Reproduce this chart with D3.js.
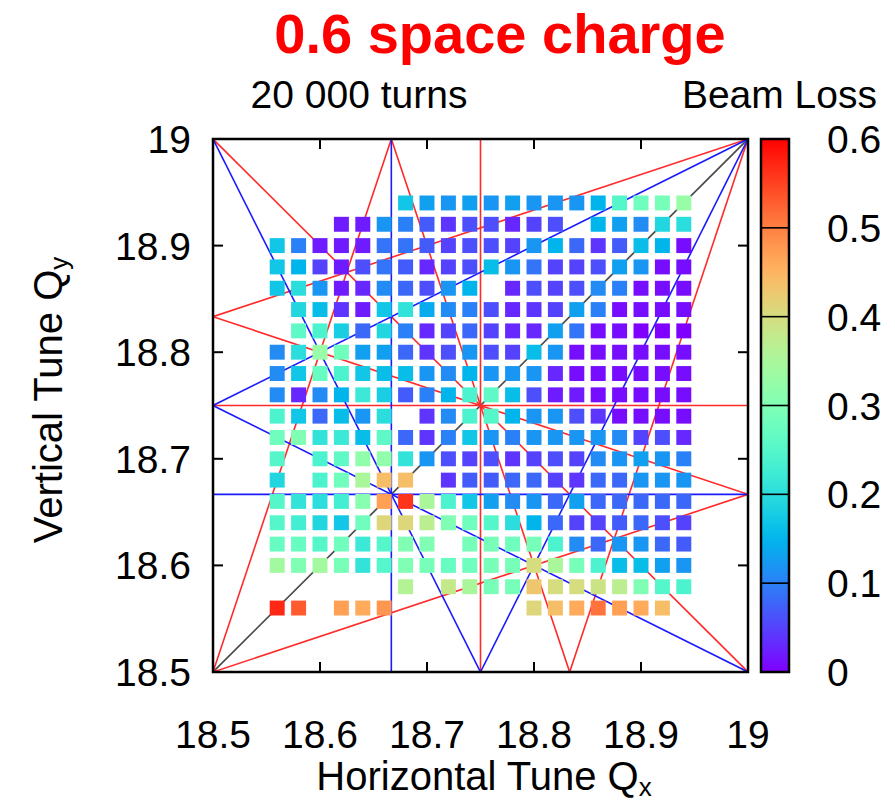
<!DOCTYPE html>
<html>
<head>
<meta charset="utf-8">
<script src="https://cdn.jsdelivr.net/npm/d3@7"></script>
<style>
  html, body { margin: 0; padding: 0; background: #fff; }
  svg text { font-family: "Liberation Sans", Arial, Helvetica, sans-serif; }
</style>
</head>
<body>
<svg id="chart" width="895" height="807"></svg>
<script>
// Tune grid: horizontal (columns) and vertical (rows, top to bottom)
const qxTunes = [18.56, 18.58, 18.60, 18.62, 18.64, 18.66, 18.68, 18.70, 18.72, 18.74,
                 18.76, 18.78, 18.80, 18.82, 18.84, 18.86, 18.88, 18.90, 18.92, 18.94];
const qyTunes = [18.94, 18.92, 18.90, 18.88, 18.86, 18.84, 18.82, 18.80, 18.78, 18.76,
                 18.74, 18.72, 18.70, 18.68, 18.66, 18.64, 18.62, 18.60, 18.58, 18.56];

// Fraction of beam lost after 20 000 turns, one row per vertical tune (null = not simulated)
const _ = null;
const beamLoss = [
  [_, _, _, _, _, _, .17, .13, .12, .13, .12, .13, .12, .12, .12, .15, .25, .28, .29, .33],
  [_, _, _, .02, .02, .12, .10, .07, .04, .06, .06, .03, .05, .06, _, .15, .13, .11, .19, .20],
  [.17, .10, .02, .02, .02, .09, .09, .07, .05, .06, .06, .05, .12, .15, .08, .04, .07, .16, .15, .01],
  [.17, .15, .05, .02, .06, .09, .07, .03, .05, .06, .16, .12, .09, .05, .05, .06, .13, .12, .01, .01],
  [.17, .20, .12, .02, .03, .11, .08, .06, .12, .15, _, .03, .06, .05, .06, .11, .10, .01, .01, .01],
  [_, .19, .16, .04, .02, .17, .21, .14, .11, .10, .06, .03, .04, .05, .13, .10, .01, .01, .01, .01],
  [_, .26, .24, .18, .08, .19, .10, .03, .05, .08, .05, .03, .03, .13, .09, .01, .01, .00, .00, .00],
  [.11, .20, .33, .28, .13, .13, .08, .04, .06, .12, .06, .05, .16, .12, .01, .01, .01, .01, .01, .01],
  [.11, .17, .27, .24, .17, .16, .16, .12, .11, .15, .12, .12, .12, .03, .01, .01, .01, .01, .01, .01],
  [.11, .03, .11, .15, .22, .18, .07, .10, .15, .24, .26, .16, .06, .02, .02, .01, .01, .01, .01, .01],
  [.24, .17, .08, .16, .12, .20, _, .04, .11, .24, .25, .15, .12, .12, .06, .04, .01, .01, .01, .01],
  [.28, .30, .21, .22, .16, .26, .08, .04, .10, .17, .12, .10, .12, .12, .12, .12, .11, .05, .06, .03],
  [.25, _, .24, .26, .32, .32, .21, .12, .06, .05, .06, .04, .05, .06, .05, .11, .12, .13, .12, .10],
  [.19, _, .24, .28, .35, .44, .44, _, .04, .07, .07, .08, .08, .05, .04, .08, .08, .12, .12, .12],
  [.25, .21, .20, .23, .31, .47, .56, .35, .24, .17, .13, .11, .12, .08, .13, .08, .08, .08, .08, .08],
  [.25, .23, .19, .17, .28, .41, .41, .37, .30, .28, .25, .20, .15, .08, .05, .05, .07, .08, .06, .05],
  [.27, .27, .25, .28, .22, .25, .30, .30, _, .29, .29, .28, .29, .24, .11, .08, .12, .12, .08, .07],
  [.34, .30, .34, .29, .21, .25, .30, .29, .27, .28, .29, .29, .40, .35, .29, .24, .16, .16, .13, .12],
  [_, _, _, _, _, _, .36, _, .38, .35, .29, .29, .43, .40, .40, .39, .37, .30, .25, .24],
  [.57, .53, _, .47, .46, .48, _, _, _, _, _, _, .41, .44, .46, .51, .47, .46, .44, _]
];

// Resonance lines m*Qx + n*Qy = p, grouped by order
const order2Lines = [[1, -1, 0]];
const order3Lines = [[3, 0, 56], [0, 3, 56], [2, 1, 56], [1, 2, 56], [2, -1, 19], [1, -2, -19]];
const order4Lines = [[4, 0, 75], [0, 4, 75], [2, 2, 75], [3, 1, 75], [1, 3, 75],
                     [3, -1, 37], [3, -1, 38], [1, -3, -37], [1, -3, -38]];

const axisTicks = [18.5, 18.6, 18.7, 18.8, 18.9, 19];
const axisTickLabels = ["18.5", "18.6", "18.7", "18.8", "18.9", "19"];
const cbTicks = [0, 0.1, 0.2, 0.3, 0.4, 0.5, 0.6];
const cbTickLabels = ["0", "0.1", "0.2", "0.3", "0.4", "0.5", "0.6"];

const tuneDomain = [18.5, 19];
const lossDomain = [0, 0.6];

// Layout
const plot = { left: 213, right: 748, top: 139, bottom: 672 };
const cbar = { left: 761, right: 789 };
const cellSize = 0.014;
const labelSize = 39;

const svg = d3.select("#chart");
const x = d3.scaleLinear().domain(tuneDomain).range([plot.left, plot.right]);
const y = d3.scaleLinear().domain(tuneDomain).range([plot.bottom, plot.top]);
const cy = d3.scaleLinear().domain(lossDomain).range([plot.bottom, plot.top]);

// Rainbow palette: r=|2t-0.5|, g=sin(pi t), b=cos(pi t/2)
function rainbow(t) {
  const c = v => Math.round(255 * Math.max(0, Math.min(1, v)));
  return `rgb(${c(Math.abs(2 * t - 0.5))},${c(Math.sin(Math.PI * t))},${c(Math.cos(Math.PI * t / 2))})`;
}
const color = v => rainbow((v - lossDomain[0]) / (lossDomain[1] - lossDomain[0]));

svg.append("defs").append("clipPath").attr("id", "plotClip")
  .append("rect")
  .attr("x", plot.left).attr("y", plot.top)
  .attr("width", plot.right - plot.left).attr("height", plot.bottom - plot.top);

// Clip a resonance line to the tune square
function segment([m, n, p]) {
  const [lo, hi] = tuneDomain, pts = [];
  if (n !== 0) {
    for (const qx of [lo, hi]) { const qy = (p - m * qx) / n; if (qy >= lo - 1e-9 && qy <= hi + 1e-9) pts.push([qx, qy]); }
  }
  if (m !== 0) {
    for (const qy of [lo, hi]) { const qx = (p - n * qy) / m; if (qx >= lo - 1e-9 && qx <= hi + 1e-9) pts.push([qx, qy]); }
  }
  pts.sort((a, b) => a[0] - b[0] || a[1] - b[1]);
  return [pts[0], pts[pts.length - 1]];
}

const lineLayer = svg.append("g").attr("clip-path", "url(#plotClip)");
function drawLines(lines, stroke, width) {
  lineLayer.selectAll(null).data(lines.map(segment)).join("line")
    .attr("x1", d => x(d[0][0])).attr("y1", d => y(d[0][1]))
    .attr("x2", d => x(d[1][0])).attr("y2", d => y(d[1][1]))
    .attr("stroke", stroke).attr("stroke-width", width);
}
drawLines(order2Lines, "#4a4a4a", 1.7);
drawLines(order4Lines, "#ff2a2a", 1.6);
drawLines(order3Lines, "#1a1aff", 1.6);

// Loss cells
const cells = [];
beamLoss.forEach((row, i) => row.forEach((v, j) => {
  if (v !== null) cells.push({ qx: qxTunes[j], qy: qyTunes[i], v });
}));
svg.append("g").selectAll("rect").data(cells).join("rect")
  .attr("x", d => x(d.qx - cellSize / 2))
  .attr("y", d => y(d.qy + cellSize / 2))
  .attr("width", d => x(d.qx + cellSize / 2) - x(d.qx - cellSize / 2))
  .attr("height", d => y(d.qy - cellSize / 2) - y(d.qy + cellSize / 2))
  .attr("fill", d => color(d.v));

// Frame and inward ticks on all sides
const frame = svg.append("g").attr("stroke", "#000").attr("fill", "none");
frame.append("rect")
  .attr("x", plot.left).attr("y", plot.top)
  .attr("width", plot.right - plot.left).attr("height", plot.bottom - plot.top)
  .attr("stroke-width", 2.5);
const tickLen = 10;
axisTicks.forEach(t => {
  frame.append("line").attr("x1", x(t)).attr("x2", x(t)).attr("y1", plot.bottom).attr("y2", plot.bottom - tickLen).attr("stroke-width", 2);
  frame.append("line").attr("x1", x(t)).attr("x2", x(t)).attr("y1", plot.top).attr("y2", plot.top + tickLen).attr("stroke-width", 2);
  frame.append("line").attr("y1", y(t)).attr("y2", y(t)).attr("x1", plot.left).attr("x2", plot.left + tickLen).attr("stroke-width", 2);
  frame.append("line").attr("y1", y(t)).attr("y2", y(t)).attr("x1", plot.right).attr("x2", plot.right - tickLen).attr("stroke-width", 2);
});

svg.append("g").selectAll("text").data(axisTicks).join("text")
  .attr("x", d => x(d)).attr("y", 748)
  .attr("text-anchor", "middle").attr("font-size", labelSize)
  .text((d, i) => axisTickLabels[i]);
svg.append("g").selectAll("text").data(axisTicks).join("text")
  .attr("x", 191).attr("y", d => y(d)).attr("dy", "0.36em")
  .attr("text-anchor", "end").attr("font-size", labelSize)
  .text((d, i) => axisTickLabels[i]);

// Colour bar
const grad = svg.select("defs").append("linearGradient").attr("id", "lossGrad")
  .attr("x1", 0).attr("y1", 1).attr("x2", 0).attr("y2", 0);
d3.range(0, 1.0001, 0.02).forEach(t => {
  grad.append("stop").attr("offset", t).attr("stop-color", rainbow(t));
});
svg.append("rect")
  .attr("x", cbar.left).attr("y", plot.top)
  .attr("width", cbar.right - cbar.left).attr("height", plot.bottom - plot.top)
  .attr("fill", "url(#lossGrad)");
svg.append("g").selectAll("line").data(cbTicks.slice(1, -1)).join("line")
  .attr("x1", cbar.left).attr("x2", cbar.right)
  .attr("y1", d => cy(d)).attr("y2", d => cy(d))
  .attr("stroke", "#000").attr("stroke-width", 1.6);
svg.append("rect")
  .attr("x", cbar.left).attr("y", plot.top)
  .attr("width", cbar.right - cbar.left).attr("height", plot.bottom - plot.top)
  .attr("fill", "none").attr("stroke", "#000").attr("stroke-width", 2.5);
svg.append("g").selectAll("text").data(cbTicks).join("text")
  .attr("x", 827).attr("y", d => cy(d)).attr("dy", "0.36em")
  .attr("font-size", labelSize)
  .text((d, i) => cbTickLabels[i]);

// Titles
svg.append("text").attr("x", 500).attr("y", 53).attr("text-anchor", "middle")
  .attr("font-size", 56).attr("font-weight", "bold").attr("fill", "#ff0000")
  .text("0.6 space charge");
svg.append("text").attr("x", 359).attr("y", 108).attr("text-anchor", "middle")
  .attr("font-size", labelSize).text("20 000 turns");
svg.append("text").attr("x", 877).attr("y", 108).attr("text-anchor", "end")
  .attr("font-size", labelSize).text("Beam Loss");

const xt = svg.append("text").attr("x", 484).attr("y", 790).attr("text-anchor", "middle")
  .attr("font-size", 40);
xt.append("tspan").text("Horizontal Tune Q");
xt.append("tspan").attr("font-size", 26).attr("dy", 6).text("x");

const yt = svg.append("text").attr("transform", "translate(62,400) rotate(-90)")
  .attr("text-anchor", "middle").attr("font-size", 40);
yt.append("tspan").text("Vertical Tune Q");
yt.append("tspan").attr("font-size", 26).attr("dy", 6).text("y");
</script>
</body>
</html>
